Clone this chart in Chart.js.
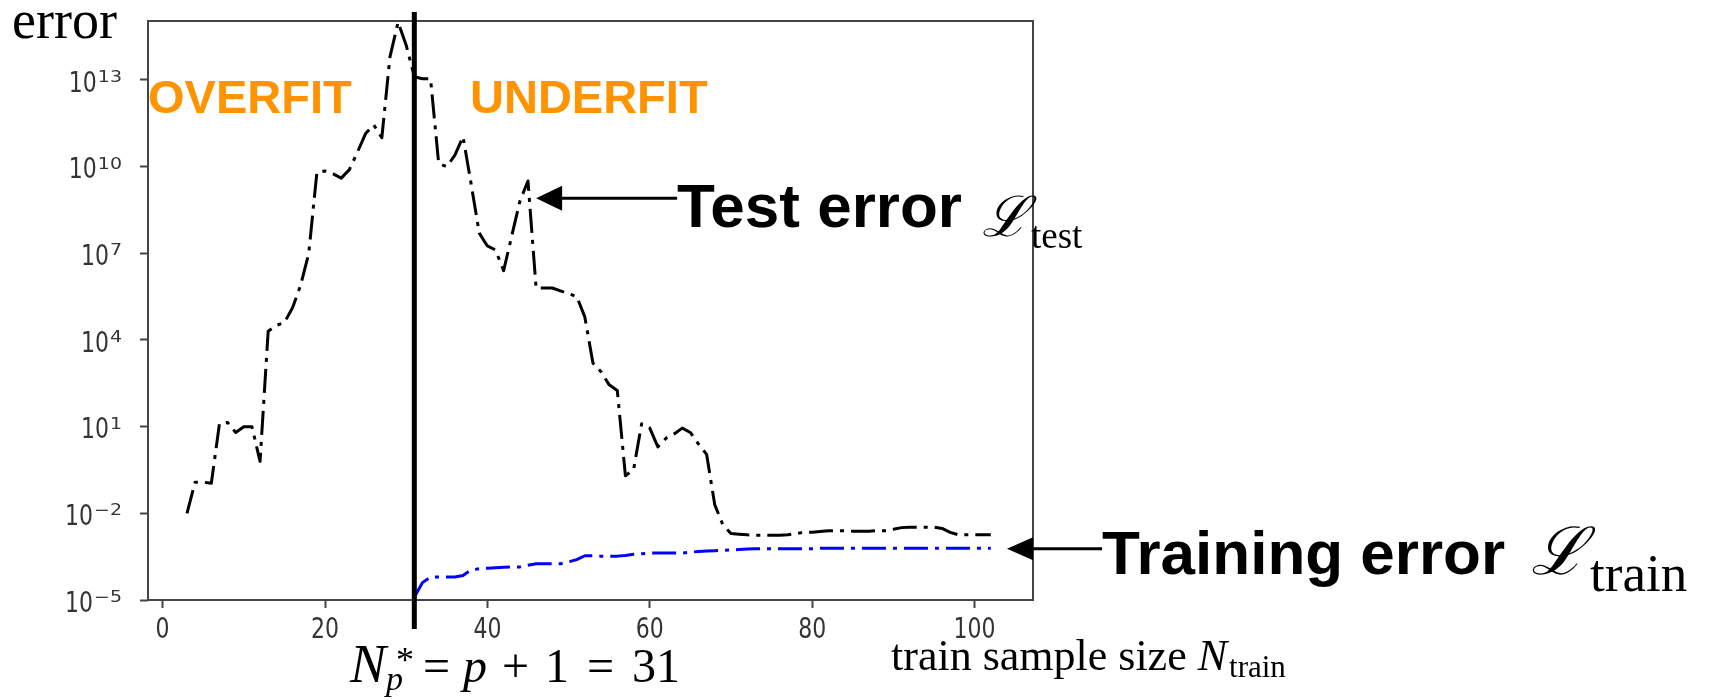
<!DOCTYPE html>
<html>
<head>
<meta charset="utf-8">
<script src="https://cdn.jsdelivr.net/npm/chart.js@4.4.1/dist/chart.umd.min.js"></script>
<style>
  html, body { margin: 0; padding: 0; background: #ffffff; }
  canvas { display: block; }
</style>
</head>
<body>
<canvas id="chart" width="1717" height="700"></canvas>
<script>
// ---- data -------------------------------------------------------------
const testN = [3,4,5,6,7,8,9,10,11,12,13,14,15,16,17,18,19,20,21,22,23,24,25,26,27,28,29,30,31,32,33,34,35,36,37,38,39,40,41,42,43,44,45,46,47,48,49,50,51,52,53,54,55,56,57,58,59,60,61,62,63,64,65,66,67,68,69,70,71,72,73,74,75,76,77,78,79,80,81,82,83,84,85,86,87,88,89,90,91,92,93,94,95,96,97,98,99,100,101,102];
const testError = [
  1.0e-2, 1.2e-1, 1.2e-1, 1.1e-1, 12.6, 14, 6.3, 10, 10, 0.63,
  2.0e4, 3.2e4, 4.0e4, 1.3e5, 7.9e5, 1.0e7, 6.3e9, 7.1e9, 5.6e9, 4.0e9,
  7.9e9, 3.2e10, 1.4e11, 2.8e11, 1.0e11, 6.3e13, 1.0e15, 1.6e14, 1.3e13, 1.1e13,
  1.1e13, 1.3e10, 1.0e10, 2.5e10, 1.1e11, 2.5e9, 5.0e7, 1.8e7, 1.3e7, 2.5e6,
  4.0e7, 6.3e8, 3.2e9, 6.3e5, 6.3e5, 6.3e5, 5.0e5, 4.0e5, 3.2e5, 6.3e4,
  1.6e3, 7.9e2, 2.8e2, 1.8e2, 0.2, 0.32, 12.6, 8.9, 2.0, 4.0,
  5.6, 8.9, 6.3, 2.5, 1.1, 0.02, 4.0e-3, 2.0e-3, 1.9e-3, 1.8e-3,
  1.75e-3, 1.75e-3, 1.75e-3, 1.75e-3, 1.8e-3, 2.0e-3, 2.2e-3, 2.2e-3, 2.35e-3, 2.5e-3,
  2.5e-3, 2.5e-3, 2.4e-3, 2.4e-3, 2.4e-3, 2.5e-3, 2.5e-3, 2.8e-3, 3.2e-3, 3.3e-3,
  3.3e-3, 3.3e-3, 3.3e-3, 3.0e-3, 2.2e-3, 1.8e-3, 1.8e-3, 1.8e-3, 1.8e-3, 1.8e-3
];
const trainN = [31,32,33,34,35,36,37,38,39,40,41,42,43,44,45,46,47,48,49,50,51,52,53,54,55,56,57,58,59,60,61,62,63,64,65,66,67,68,69,70,71,72,73,74,75,76,77,78,79,80,81,82,83,84,85,86,87,88,89,90,91,92,93,94,95,96,97,98,99,100,101,102];
const trainError = [
  1.25e-5, 4.0e-5, 6.3e-5, 6.3e-5, 6.3e-5, 6.3e-5, 7.1e-5, 1.1e-4, 1.2e-4, 1.26e-4,
  1.3e-4, 1.35e-4, 1.4e-4, 1.4e-4, 1.6e-4, 1.8e-4, 1.8e-4, 1.8e-4, 1.8e-4, 2.1e-4,
  2.5e-4, 3.4e-4, 3.4e-4, 3.3e-4, 3.3e-4, 3.3e-4, 3.5e-4, 3.8e-4, 4.0e-4, 4.2e-4,
  4.2e-4, 4.2e-4, 4.2e-4, 4.2e-4, 4.5e-4, 4.8e-4, 5.0e-4, 5.1e-4, 5.2e-4, 5.4e-4,
  5.6e-4, 5.8e-4, 5.9e-4, 5.9e-4, 5.9e-4, 5.9e-4, 5.9e-4, 5.9e-4, 5.9e-4, 5.9e-4,
  6.2e-4, 6.2e-4, 6.2e-4, 6.2e-4, 6.2e-4, 6.2e-4, 6.2e-4, 6.2e-4, 6.2e-4, 6.2e-4,
  6.2e-4, 6.2e-4, 6.2e-4, 6.2e-4, 6.2e-4, 6.2e-4, 6.2e-4, 6.2e-4, 6.2e-4, 6.2e-4,
  6.2e-4, 6.2e-4
];
const xTickValues = [0, 20, 40, 60, 80, 100];
const yTickValues = [1e-5, 1e-2, 1e1, 1e4, 1e7, 1e10, 1e13];
const xLimits = [-1.8, 107.2];
const yLimits = [1e-5, 1.1e15];
const thresholdN = 31;                       // N*_p = p + 1
const testArrowTip = { x: 46, y: 8e8 };
const trainArrowTip = { x: 104, y: 6e-4 };

// ---- styling ------------------------------------------------------------
const INK = '#000000';
const AXIS = '#444444';
const TICK_TEXT = '#333333';
const ORANGE = '#FF9300';
const SERIF = '"Liberation Serif", "DejaVu Serif", serif';
const SANS = '"Liberation Sans", Arial, sans-serif';
const TICK_FONT = '"DejaVu Sans", sans-serif';

const toPoints = (xs, ys) => xs.map((n, i) => ({ x: n, y: ys[i] }));

function text(ctx, s, x, y, font, color, align) {
  ctx.save();
  ctx.font = font;
  ctx.fillStyle = color;
  ctx.textAlign = align || 'left';
  ctx.textBaseline = 'alphabetic';
  ctx.fillText(s, x, y);
  const w = ctx.measureText(s).width;
  ctx.restore();
  return w;
}

function stretchedText(ctx, s, x, y, font, sy, align) {
  ctx.save();
  ctx.font = font;
  ctx.fillStyle = TICK_TEXT;
  ctx.textAlign = align;
  ctx.textBaseline = 'alphabetic';
  ctx.translate(x, y);
  ctx.scale(1, sy);
  ctx.fillText(s, 0, 0);
  ctx.restore();
}

function measure(ctx, s, font) {
  ctx.save(); ctx.font = font;
  const w = ctx.measureText(s).width;
  ctx.restore();
  return w;
}

function arrow(ctx, tipX, tipY, tailX, headLen, headHalf) {
  ctx.save();
  ctx.strokeStyle = INK;
  ctx.fillStyle = INK;
  ctx.lineWidth = 3;
  ctx.beginPath();
  ctx.moveTo(tailX, tipY);
  ctx.lineTo(tipX + headLen - 2, tipY);
  ctx.stroke();
  ctx.beginPath();
  ctx.moveTo(tipX, tipY);
  ctx.lineTo(tipX + headLen, tipY - headHalf);
  ctx.lineTo(tipX + headLen, tipY + headHalf);
  ctx.closePath();
  ctx.fill();
  ctx.restore();
}

function exponentText(v) {
  const e = Math.round(Math.log10(v));
  return (e < 0 ? '\u2212' : '') + Math.abs(e);
}

// frame, tick labels, threshold marker and annotations
const decorations = {
  id: 'decorations',
  afterDatasetsDraw(chart) {
    const { ctx, chartArea: a, scales: { x, y } } = chart;

    // axes box
    ctx.save();
    ctx.strokeStyle = AXIS;
    ctx.lineWidth = 2;
    ctx.strokeRect(a.left, a.top, a.right - a.left, a.bottom - a.top);
    ctx.restore();

    // x tick labels
    const tickFont = '22px ' + TICK_FONT;
    x.ticks.forEach(t => {
      stretchedText(ctx, String(t.value), x.getPixelForValue(t.value), a.bottom + 38, tickFont, 1.26, 'center');
    });

    // y tick labels: 10 with exponent
    const expFont = '19px ' + TICK_FONT;
    const right = a.left - 26;
    y.ticks.forEach(t => {
      const py = y.getPixelForValue(t.value);
      const ex = exponentText(t.value);
      const ew = measure(ctx, ex, expFont);
      stretchedText(ctx, '10', right - ew - 1, py + 11.7, tickFont, 1.26, 'right');
      stretchedText(ctx, ex, right - ew, py + 2, expFont, 0.8, 'left');
    });

    // threshold line at N*_p
    const tx = x.getPixelForValue(thresholdN);
    ctx.save();
    ctx.fillStyle = INK;
    ctx.fillRect(tx - 2.5, a.top - 9, 5, a.bottom - a.top + 38);
    ctx.restore();

    // test error annotation
    const tX = x.getPixelForValue(testArrowTip.x);
    const tY = y.getPixelForValue(testArrowTip.y);
    const tTail = tX + 141;
    arrow(ctx, tX, tY, tTail, 26, 12.5);
    const w1 = text(ctx, 'Test error', tTail, tY + 29, 'bold 62px ' + SANS, INK);
    const lx1 = tTail + w1 + 20;
    const lw1 = text(ctx, '\u2112', lx1, tY + 38, 'italic 56px "DejaVu Serif", serif', INK);
    text(ctx, 'test', lx1 + lw1 + 2, tY + 50, '37px ' + SERIF, INK);

    // training error annotation
    const rX = x.getPixelForValue(trainArrowTip.x);
    const rY = y.getPixelForValue(trainArrowTip.y);
    const rTail = rX + 95;
    arrow(ctx, rX, rY, rTail, 26, 11.5);
    const w2 = text(ctx, 'Training error', rTail, rY + 25.5, 'bold 62px ' + SANS, INK);
    const lx2 = rTail + w2 + 26;
    const lw2 = text(ctx, '\u2112', lx2, rY + 25.5, 'italic 66px "DejaVu Serif", serif', INK);
    text(ctx, 'train', lx2 + lw2 + 4, rY + 42, '53px ' + SERIF, INK);

    // regime labels
    text(ctx, 'OVERFIT', a.left, 112.5, 'bold 47px ' + SANS, ORANGE);
    text(ctx, 'UNDERFIT', 470, 112.5, 'bold 47px ' + SANS, ORANGE);

    // axis titles
    text(ctx, 'error', 12, 37.5, '54px ' + SERIF, INK);
    const wx = text(ctx, 'train sample size ', 891, 669.5, '44px ' + SERIF, INK);
    const wn = text(ctx, 'N', 891 + wx, 669.5, 'italic 44px ' + SERIF, INK);
    text(ctx, 'train', 891 + wx + wn + 2, 677, '31px ' + SERIF, INK);

    // N*_p = p + 1 = 31
    const B = 681.7;
    text(ctx, 'N', 350, B, 'italic 54px ' + SERIF, INK);
    text(ctx, '*', 396, B - 10, '36px ' + SERIF, INK);
    text(ctx, 'p', 386, B + 8, 'italic 34px ' + SERIF, INK);
    text(ctx, '=', 423, B, '48px ' + SERIF, INK);
    text(ctx, 'p', 463, B, 'italic 48px ' + SERIF, INK);
    text(ctx, '+', 502, B, '48px ' + SERIF, INK);
    text(ctx, '1', 545, B, '48px ' + SERIF, INK);
    text(ctx, '=', 587, B, '48px ' + SERIF, INK);
    text(ctx, '31', 632, B, '48px ' + SERIF, INK);
  }
};

const lineStyle = {
  borderWidth: 3,
  borderDash: [24, 7, 4, 7],
  borderCapStyle: 'butt',
  borderJoinStyle: 'round',
  pointRadius: 0,
  fill: false,
  tension: 0
};

new Chart(document.getElementById('chart'), {
  type: 'line',
  data: {
    datasets: [
      Object.assign({ label: 'test', data: toPoints(testN, testError), borderColor: INK }, lineStyle),
      Object.assign({ label: 'train', data: toPoints(trainN, trainError), borderColor: '#0000FF' }, lineStyle)
    ]
  },
  options: {
    responsive: false,
    animation: false,
    devicePixelRatio: 1,
    layout: { padding: { top: 21, right: 684, left: 0, bottom: 0 } },
    plugins: { legend: { display: false }, tooltip: { enabled: false } },
    scales: {
      x: {
        type: 'linear',
        min: xLimits[0],
        max: xLimits[1],
        afterBuildTicks: s => { s.ticks = xTickValues.map(v => ({ value: v })); },
        afterFit: s => { s.height = 100; },
        ticks: { display: false },
        grid: { drawOnChartArea: false, drawTicks: true, tickLength: 8, tickWidth: 2, tickColor: AXIS },
        border: { display: false }
      },
      y: {
        type: 'logarithmic',
        min: yLimits[0],
        max: yLimits[1],
        afterBuildTicks: s => { s.ticks = yTickValues.map(v => ({ value: v })); },
        afterFit: s => { s.width = 148; },
        ticks: { display: false },
        grid: { drawOnChartArea: false, drawTicks: true, tickLength: 8, tickWidth: 2, tickColor: AXIS },
        border: { display: false }
      }
    }
  },
  plugins: [decorations]
});
</script>
</body>
</html>
